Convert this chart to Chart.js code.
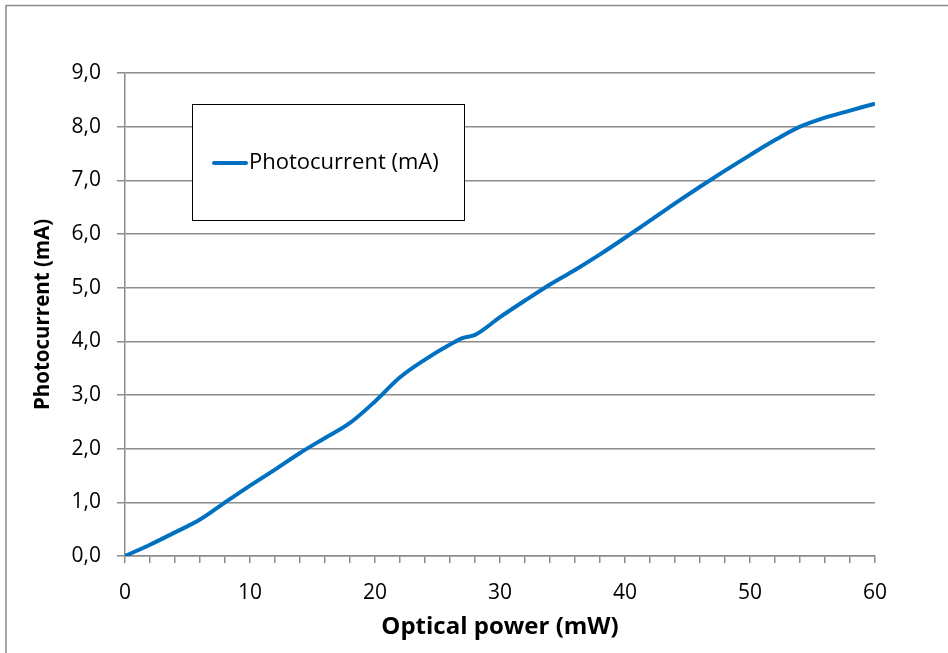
<!DOCTYPE html>
<html>
<head>
<meta charset="utf-8">
<script src="https://cdn.jsdelivr.net/npm/chart.js@4.4.1/dist/chart.umd.min.js"></script>
<style>
  html, body { margin: 0; padding: 0; background: #fff; }
  #wrap { width: 948px; height: 653px; position: relative; }
</style>
</head>
<body>
<div id="wrap"><canvas id="c" width="948" height="653"></canvas></div>
<script>
// Data
const opticalPower = [0, 2, 4, 6, 8, 10, 12, 14, 16, 18, 20, 22, 24, 26, 27, 28, 30, 32, 34, 36, 38, 40, 42, 44, 46, 48, 50, 52, 54, 56, 58, 60];
const photocurrent = [0, 0.21, 0.44, 0.68, 1.0, 1.31, 1.61, 1.92, 2.20, 2.48, 2.88, 3.33, 3.66, 3.94, 4.06, 4.12, 4.45, 4.76, 5.06, 5.33, 5.62, 5.93, 6.25, 6.57, 6.88, 7.18, 7.47, 7.75, 8.00, 8.17, 8.30, 8.43];
const seriesLabel = 'Photocurrent (mA)';
const xTitle = 'Optical power (mW)';
const yTitle = 'Photocurrent (mA)';
const xMin = 0, xMax = 60, xMajor = 10, xMinor = 2;
const yMin = 0, yMax = 9, yStep = 1;

const FONT = '"Open Sans", "Noto Sans", sans-serif';
const LINE_COLOR = '#0070C0';
const GRID_COLOR = '#8c8c8c';

const points = opticalPower.map((x, i) => ({ x: x, y: photocurrent[i] }));

const frame = {
  id: 'frame',
  beforeDraw(chart) {
    const ctx = chart.ctx;
    ctx.save();
    ctx.fillStyle = '#fff';
    ctx.fillRect(0, 0, chart.width, chart.height);
    ctx.strokeStyle = '#8c8c8c';
    ctx.lineWidth = 1.5;
    ctx.strokeRect(6, 5.5, 2000, 2000);
    ctx.restore();
  }
};

const boxLegend = {
  id: 'boxLegend',
  afterDraw(chart) {
    const ctx = chart.ctx;
    const ds = chart.data.datasets[0];
    const x0 = 192.5, y0 = 104.5, w = 272, h = 116;
    ctx.save();
    ctx.fillStyle = '#fff';
    ctx.fillRect(x0, y0, w, h);
    ctx.strokeStyle = '#000';
    ctx.lineWidth = 1;
    ctx.strokeRect(x0, y0, w, h);
    const cy = y0 + 58.5;
    ctx.strokeStyle = ds.borderColor;
    ctx.lineWidth = 4;
    ctx.lineCap = 'round';
    ctx.beginPath();
    ctx.moveTo(214, cy);
    ctx.lineTo(246, cy);
    ctx.stroke();
    ctx.fillStyle = '#000';
    ctx.font = '22px ' + FONT;
    ctx.textBaseline = 'middle';
    ctx.textAlign = 'left';
    ctx.fillText(ds.label, 249, cy);
    ctx.restore();
  }
};

new Chart(document.getElementById('c'), {
  type: 'line',
  data: {
    datasets: [{
      label: seriesLabel,
      data: points,
      borderColor: LINE_COLOR,
      backgroundColor: LINE_COLOR,
      borderWidth: 4,
      pointRadius: 0,
      cubicInterpolationMode: 'monotone',
      fill: false
    }]
  },
  options: {
    responsive: false,
    animation: false,
    devicePixelRatio: 1,
    layout: { padding: { top: 73, right: 73, left: 0, bottom: 0 } },
    plugins: { legend: { display: false }, tooltip: { enabled: false } },
    scales: {
      x: {
        type: 'linear',
        min: xMin, max: xMax,
        afterFit(s) { s.height = 97; },
        ticks: {
          stepSize: xMinor,
          autoSkip: false,
          maxRotation: 0,
          padding: 17,
          color: '#000',
          font: { family: FONT, size: 21 },
          callback: (v) => (v % xMajor === 0 ? String(v) : '')
        },
        grid: { drawOnChartArea: false, drawTicks: true, tickLength: 7, color: GRID_COLOR, lineWidth: 1.5 },
        border: { display: true, color: GRID_COLOR, width: 1.5 },
        title: {
          display: true, text: xTitle, color: '#000',
          font: { family: FONT, size: 24, weight: 'bold' },
          padding: { top: 0, bottom: 11 }
        }
      },
      y: {
        type: 'linear',
        min: yMin, max: yMax,
        afterFit(s) { s.width = 125; },
        ticks: {
          stepSize: yStep,
          padding: 16,
          color: '#000',
          font: { family: FONT, size: 21 },
          callback: (v) => v.toFixed(1).replace('.', ',')
        },
        grid: { color: GRID_COLOR, lineWidth: 1.5, tickLength: 8 },
        border: { display: true, color: GRID_COLOR, width: 1.5 },
        title: {
          display: true, text: yTitle, color: '#000',
          font: { family: FONT, size: 20.5, weight: 'bold' },
          padding: { top: 31, bottom: 0 }
        }
      }
    }
  },
  plugins: [frame, boxLegend]
});
</script>
</body>
</html>
